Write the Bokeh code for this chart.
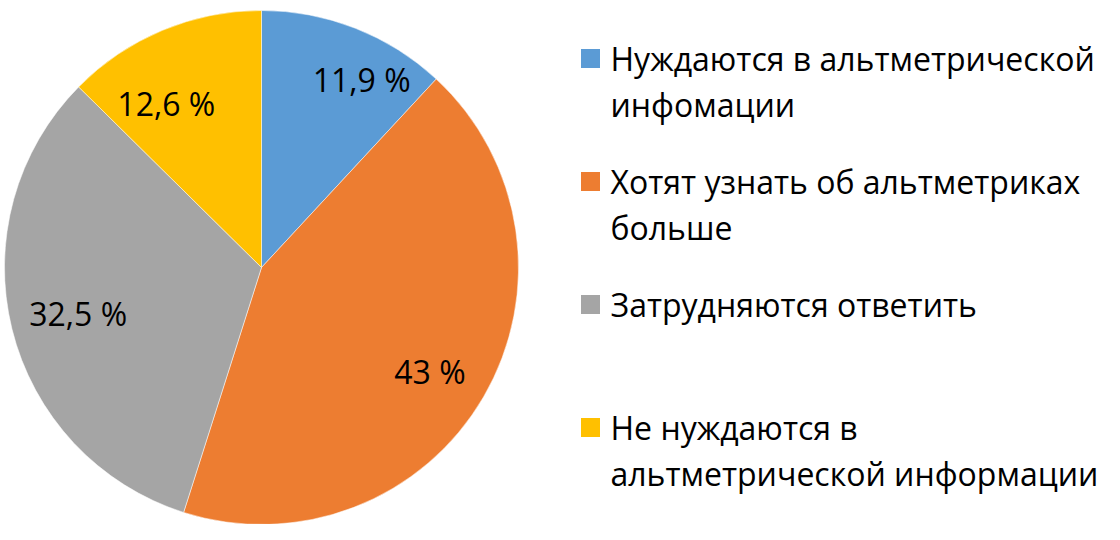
import numpy as np
from bokeh.plotting import figure
from bokeh.models import Range1d, ColumnDataSource
from bokeh.core.properties import value
from bokeh.embed import file_html
from bokeh.resources import INLINE

# ---- data ----
categories = [
    "Нуждаются в альтметрической\nинфомации",
    "Хотят узнать об альтметриках\nбольше",
    "Затрудняются ответить",
    "Не нуждаются в\nальтметрической информации",
]
shares = [11.9, 43.0, 32.5, 12.6]
share_labels = ["11,9 %", "43 %", "32,5 %", "12,6 %"]
colors = ["#5B9BD5", "#ED7D31", "#A5A5A5", "#FFC000"]

# ---- layout ----
W, H = 1104, 524
FONT = "Open Sans"
FS = "32px"
cx, cy = 261, 540 - 267   # data coords (page y flipped)
R = 257
label_r = 195
nudges = [(29, 6), (0, -6), (6, 1), (-20, -16)]  # (dx, dy) in data units (y up)

p = figure(width=W, height=H, x_range=Range1d(0, W), y_range=Range1d(540 - H, 540),
           output_backend="svg", toolbar_location=None, min_border=0,
           outline_line_color=None)
p.xaxis.visible = False
p.yaxis.visible = False
p.grid.visible = False
p.background_fill_color = "white"
p.border_fill_color = "white"

vals = np.array(shares, dtype=float)
frac = vals / vals.sum()
cum_end = np.cumsum(frac)
cum_start = cum_end - frac
start_angle = np.pi / 2 - cum_end * 2 * np.pi
end_angle = np.pi / 2 - cum_start * 2 * np.pi
mid = np.pi / 2 - (cum_start + frac / 2) * 2 * np.pi

src = ColumnDataSource(dict(x=[cx] * len(vals), y=[cy] * len(vals),
                            start=start_angle, end=end_angle, color=colors))
p.wedge(x="x", y="y", radius=R, radius_units="screen", start_angle="start",
        end_angle="end", direction="anticlock", fill_color="color",
        line_color="white", line_width=0.5, source=src)

lx = cx + label_r * np.cos(mid) + np.array([n[0] for n in nudges])
ly = cy + label_r * np.sin(mid) + np.array([n[1] for n in nudges])
p.text(x=lx, y=ly, text=share_labels, text_font=value(FONT), text_font_size=FS,
       text_align="center", text_baseline="middle", text_color="black")

# ---- legend (manual) ----
leg_x_sq = 590
leg_x_txt = 610
leg_y0 = 540 - 58
leg_step = 123
line_h = 46
sq_y = [leg_y0 - i * leg_step for i in range(len(categories))]
p.rect(x=[leg_x_sq] * len(categories), y=sq_y, width=19, height=19,
       width_units="screen", height_units="screen", fill_color=colors, line_color=None)

tx, ty, tt = [], [], []
for i, cat in enumerate(categories):
    for j, line in enumerate(cat.split("\n")):
        tx.append(leg_x_txt)
        ty.append(sq_y[i] - j * line_h)
        tt.append(line)
p.text(x=tx, y=ty, text=tt, text_font=value(FONT), text_font_size=FS,
       text_align="left", text_baseline="middle", text_color="black")

open("out.html", "w").write(file_html(p, INLINE))
